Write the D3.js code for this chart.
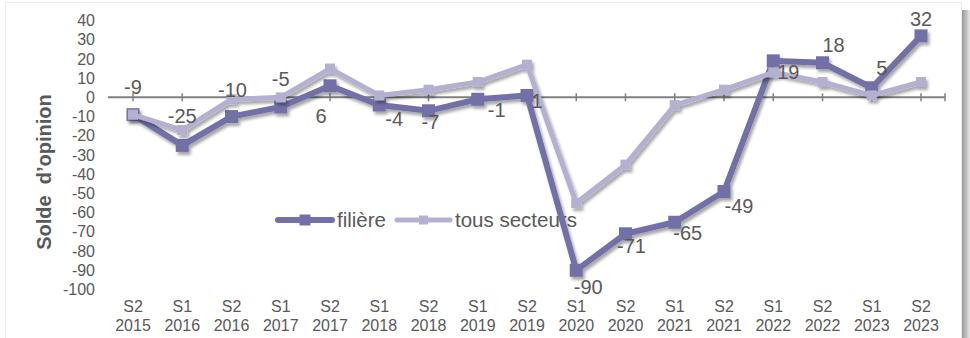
<!DOCTYPE html>
<html>
<head>
<meta charset="utf-8">
<script src="https://cdn.jsdelivr.net/npm/d3@7"></script>
<style>
  html, body { margin: 0; padding: 0; background: #fff; }
  svg { display: block; }
  text { font-family: "Liberation Sans", Arial, sans-serif; }
</style>
</head>
<body>
<svg id="chart" width="970" height="338"></svg>
<script>
// Semesters (two-line labels)
const periods = ["S2", "S1", "S2", "S1", "S2", "S1", "S2", "S1", "S2", "S1", "S2", "S1", "S2", "S1", "S2", "S1", "S2"];
const years = ["2015", "2016", "2016", "2017", "2017", "2018", "2018", "2019", "2019", "2020", "2020", "2021", "2021", "2022", "2022", "2023", "2023"];

// Opinion balance, sector vs. all sectors
const filiere = [-9, -25, -10, -5, 6, -4, -7, -1, 1, -90, -71, -65, -49, 19, 18, 5, 32];
const tousSecteurs = [-9, -17, -1, 0, 15, 1, 4, 8, 17, -55, -35, -4, 4, 13, 8, 1, 8];

const yTicks = [40, 30, 20, 10, 0, -10, -20, -30, -40, -50, -60, -70, -80, -90, -100];
const seriesNames = ["filière", "tous secteurs"];

// Data-label nudges [dx, dy] from each filière point
const labelNudge = [[0, -28], [0, -29], [1, -27], [0, -28], [-9, 30], [15, 14], [2, 11], [19, 11], [10, 6],
                    [12, 17], [6, 12], [13, 11], [15, 14], [15, 11], [11, -18], [10, -20], [0, -17]];

const svg = d3.select("#chart");
const keys = periods.map((p, i) => i);

const x = d3.scalePoint().domain(keys).range([133, 921]);
const y = d3.scaleLinear().domain([-100, 40]).range([289.5, 20.5]);

const darkCol = "#7370a8";
const lightCol = "#b3b0d1";
const textCol = "#595959";

// Frame and right-hand shadow
const defs = svg.append("defs");
const g1 = defs.append("linearGradient").attr("id", "edge").attr("x1", 0).attr("x2", 1);
g1.append("stop").attr("offset", 0).attr("stop-color", "#9a9a9a");
g1.append("stop").attr("offset", 0.6).attr("stop-color", "#c4c4c4");
g1.append("stop").attr("offset", 1).attr("stop-color", "#ececec");
svg.append("rect").attr("x", 962).attr("y", 10).attr("width", 8).attr("height", 328).attr("fill", "url(#edge)");
svg.append("rect").attr("x", 5.5).attr("y", 2.5).attr("width", 956).attr("height", 340)
  .attr("fill", "#fff").attr("stroke", "#ececec");

const shadow = defs.append("filter").attr("id", "shadow")
  .attr("x", "-20%").attr("y", "-20%").attr("width", "140%").attr("height", "140%");
shadow.append("feDropShadow").attr("dx", 2).attr("dy", 3).attr("stdDeviation", 1.6)
  .attr("flood-color", "#000").attr("flood-opacity", 0.35);

// Y axis tick labels (no axis line), plain hyphen for negatives
const yAxis = d3.axisLeft(y).tickValues(yTicks).tickSize(0).tickPadding(0).tickFormat(d => String(d));
svg.append("g").attr("transform", "translate(95,0)").call(yAxis)
  .call(g => g.select(".domain").remove())
  .call(g => g.selectAll("text").attr("fill", textCol).attr("font-size", 16)
    .attr("font-family", "'Liberation Sans', Arial, sans-serif"));

// Axis title
svg.append("text")
  .attr("transform", "translate(51,172) rotate(-90)")
  .attr("text-anchor", "middle")
  .attr("font-size", 20).attr("font-weight", "bold").attr("fill", textCol)
  .attr("xml:space", "preserve")
  .text("Solde  d\u2019opinion");

// Zero line with tick marks
const zeroY = y(0);
svg.append("line").attr("x1", 108).attr("x2", 945).attr("y1", zeroY).attr("y2", zeroY)
  .attr("stroke", "#808080").attr("stroke-width", 2);
const tickXs = keys.map(k => x(k)).concat([945]);
svg.append("g").selectAll("line").data(tickXs).join("line")
  .attr("x1", d => d).attr("x2", d => d).attr("y1", zeroY - 4).attr("y2", zeroY + 4)
  .attr("stroke", "#808080").attr("stroke-width", 1.5);

// Category labels below the plot
const xl = svg.append("g").selectAll("text").data(keys).join("text")
  .attr("text-anchor", "middle").attr("font-size", 16).attr("fill", textCol);
xl.append("tspan").attr("x", d => x(d)).attr("y", 312).text(d => periods[d]);
xl.append("tspan").attr("x", d => x(d)).attr("y", 331).text(d => years[d]);

// Legend
const legend = svg.append("g");
const legendItems = [
  { name: seriesNames[0], col: darkCol, x0: 278, x1: 332, w: 6, m: 11, tx: 337 },
  { name: seriesNames[1], col: lightCol, x0: 397, x1: 450, w: 5, m: 9, tx: 455 }
];
legendItems.forEach(it => {
  legend.append("line").attr("x1", it.x0).attr("x2", it.x1).attr("y1", 220).attr("y2", 220)
    .attr("stroke", it.col).attr("stroke-width", it.w).attr("stroke-linecap", "round");
  const cx = (it.x0 + it.x1) / 2;
  legend.append("rect").attr("x", cx - it.m / 2).attr("y", 220 - it.m / 2)
    .attr("width", it.m).attr("height", it.m).attr("fill", it.col);
  legend.append("text").attr("x", it.tx).attr("y", 220).attr("dy", "0.35em")
    .attr("font-size", 20.5).attr("fill", textCol).text(it.name);
});

// Series
const line = d3.line().x((d, i) => x(i)).y(d => y(d));
function drawSeries(values, col, width, marker) {
  const g = svg.append("g").attr("filter", "url(#shadow)");
  g.append("path").datum(values).attr("d", line)
    .attr("fill", "none").attr("stroke", col).attr("stroke-width", width)
    .attr("stroke-linejoin", "miter");
  g.selectAll("rect").data(values).join("rect")
    .attr("x", (d, i) => x(i) - marker / 2).attr("y", d => y(d) - marker / 2)
    .attr("width", marker).attr("height", marker).attr("fill", col);
}
drawSeries(filiere, darkCol, 6, 13);
drawSeries(tousSecteurs, lightCol, 5, 10);

// Value labels for the sector series
svg.append("g").selectAll("text").data(filiere).join("text")
  .attr("x", (d, i) => x(i) + labelNudge[i][0])
  .attr("y", (d, i) => y(d) + labelNudge[i][1])
  .attr("dy", "0.35em").attr("text-anchor", "middle")
  .attr("font-size", 20).attr("fill", textCol)
  .text(d => String(d));
</script>
</body>
</html>
